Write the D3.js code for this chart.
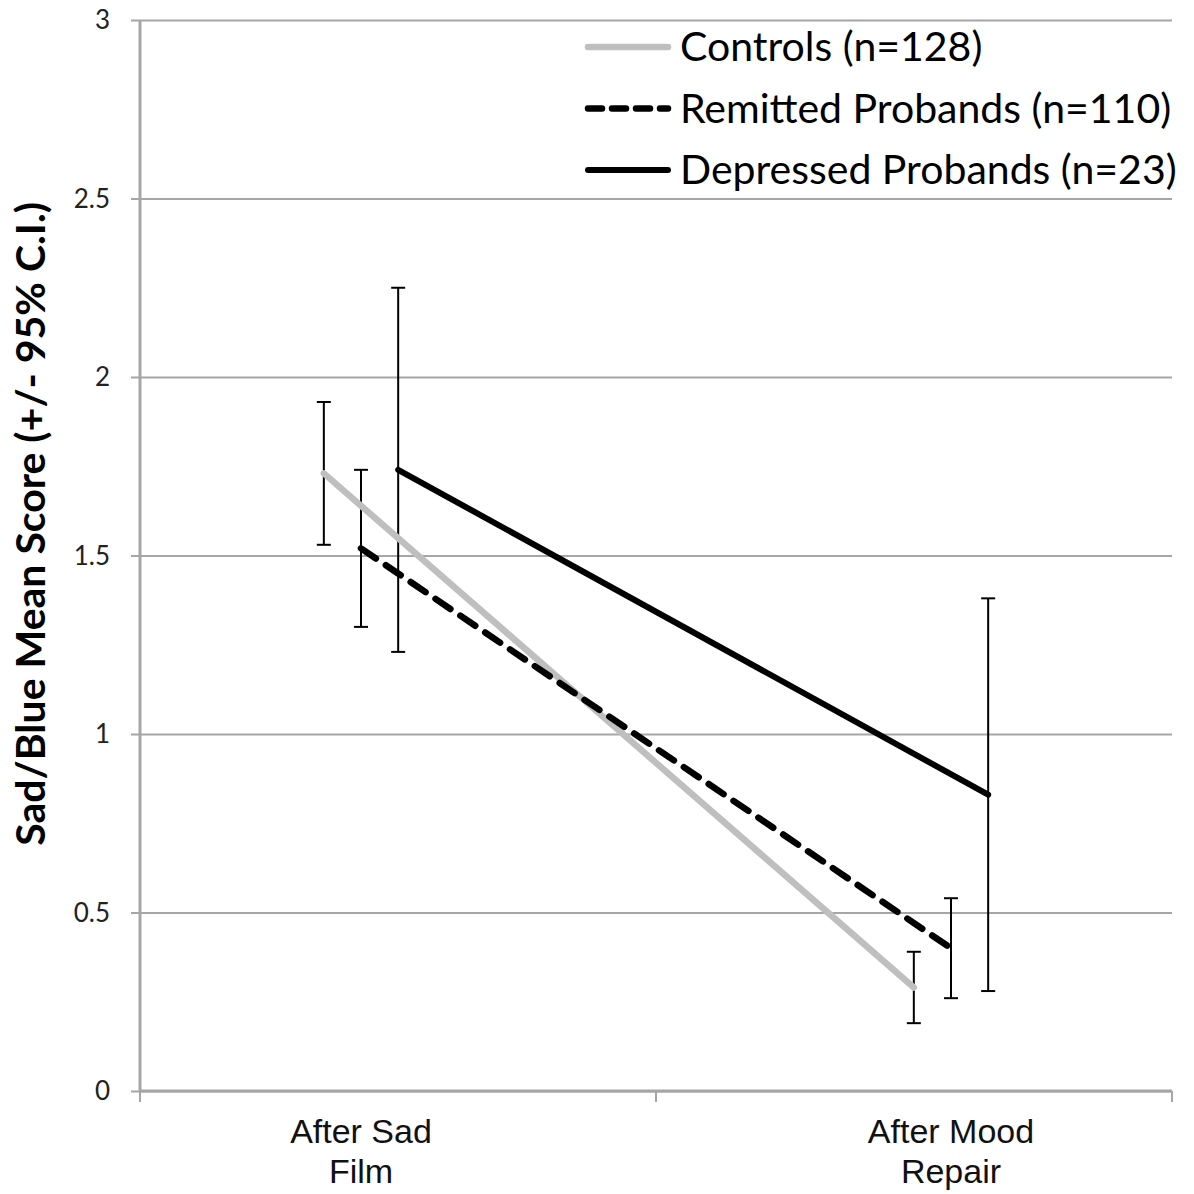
<!DOCTYPE html>
<html>
<head>
<meta charset="utf-8">
<script src="https://cdn.jsdelivr.net/npm/d3@7"></script>
<style>
  body { margin: 0; background: #fff; }
  svg { display: block; }
</style>
</head>
<body>
<svg width="1194" height="1194"></svg>
<script>
const svg = d3.select("svg");
const width = +svg.attr("width");
const height = +svg.attr("height");

// data
const categories = ["After Sad Film", "After Mood Repair"];
const categoryLines = [["After Sad", "Film"], ["After Mood", "Repair"]];
const seriesNames = ["Controls (n=128)", "Remitted Probands (n=110)", "Depressed Probands (n=23)"];
const controlsMean = [1.73, 0.29];
const controlsLow = [1.53, 0.19];
const controlsHigh = [1.93, 0.39];
const remittedMean = [1.52, 0.40];
const remittedLow = [1.30, 0.26];
const remittedHigh = [1.74, 0.54];
const depressedMean = [1.74, 0.83];
const depressedLow = [1.23, 0.28];
const depressedHigh = [2.25, 1.38];
const yTicks = [0, 0.5, 1, 1.5, 2, 2.5, 3];

const series = [
  { name: seriesNames[0], mean: controlsMean, low: controlsLow, high: controlsHigh, color: "#bfbfbf", dash: null, w: 6.5, off: -1 },
  { name: seriesNames[1], mean: remittedMean, low: remittedLow, high: remittedHigh, color: "#000", dash: "18,12", w: 6.5, off: 0 },
  { name: seriesNames[2], mean: depressedMean, low: depressedLow, high: depressedHigh, color: "#000", dash: null, w: 6, off: 1 }
];

const margin = { top: 20, right: 22, bottom: 103, left: 140 };
const innerWidth = width - margin.left - margin.right;
const innerHeight = height - margin.top - margin.bottom;

const g = svg.append("g")
  .attr("transform", `translate(${margin.left},${margin.top})`);

// scales
const yScale = d3.scaleLinear().domain([0, 3]).range([innerHeight, 0]);
const xBand = d3.scaleBand().domain(categories).range([0, innerWidth]);
const xScale = d3.scalePoint().domain(categories).range([0, innerWidth]).padding(0.3746);
const seriesStep = xScale.step() * 0.063;
const xPos = (s, i) => xScale(categories[i]) + s.off * seriesStep;

// gridlines + y axis
const yAxis = d3.axisLeft(yScale).tickValues(yTicks).tickSize(-innerWidth).tickFormat("");
const yAxisG = g.append("g").call(yAxis);
yAxisG.select(".domain").remove();
yAxisG.selectAll(".tick line").attr("stroke", "#a6a6a6").attr("stroke-width", 2).attr("x1", -9);
g.append("g").selectAll("text")
  .data(yTicks).enter().append("text")
  .attr("x", -30).attr("y", (d) => yScale(d)).attr("dy", "0.35em")
  .attr("text-anchor", "end")
  .attr("font-family", "Lato, sans-serif").attr("font-size", 26).attr("fill", "#222")
  .text(d3.format("~g"));
g.append("line")
  .attr("x1", 0).attr("x2", 0).attr("y1", 0).attr("y2", innerHeight)
  .attr("stroke", "#a6a6a6").attr("stroke-width", 3);

// x axis
const xAxisG = g.append("g").attr("transform", `translate(0,${innerHeight})`);
xAxisG.append("line")
  .attr("x1", 0).attr("x2", innerWidth)
  .attr("stroke", "#a6a6a6").attr("stroke-width", 3);
xAxisG.selectAll(".xtick")
  .data([0, ...categories.map((c) => xBand(c) + xBand.bandwidth())])
  .enter().append("line")
  .attr("x1", (d) => d).attr("x2", (d) => d).attr("y1", 0).attr("y2", 11)
  .attr("stroke", "#a6a6a6").attr("stroke-width", 2);
const catLabels = xAxisG.selectAll(".cat")
  .data(categories).enter().append("text")
  .attr("x", (d) => xScale(d))
  .attr("text-anchor", "middle")
  .attr("font-family", "'Liberation Sans', Arial, sans-serif")
  .attr("font-size", 34).attr("fill", "#111");
catLabels.append("tspan").attr("x", (d) => xScale(d)).attr("y", 52).text((d, i) => categoryLines[i][0]);
catLabels.append("tspan").attr("x", (d) => xScale(d)).attr("y", 92).text((d, i) => categoryLines[i][1]);

// y axis title
svg.append("text")
  .attr("transform", `translate(45,${margin.top + innerHeight * 0.4705}) rotate(-90)`)
  .attr("text-anchor", "middle")
  .attr("font-family", "Lato, sans-serif").attr("font-weight", "bold")
  .attr("font-size", 41).attr("fill", "#000")
  .text("Sad/Blue Mean Score (+/- 95% C.I.)");

// error bars
series.forEach((s) => {
  const eg = g.append("g");
  s.mean.forEach((m, i) => {
    const x = xPos(s, i);
    eg.append("line")
      .attr("x1", x).attr("x2", x).attr("y1", yScale(s.low[i])).attr("y2", yScale(s.high[i]))
      .attr("stroke", "#000").attr("stroke-width", 2);
    [s.low[i], s.high[i]].forEach((v) => {
      eg.append("line")
        .attr("x1", x - 7).attr("x2", x + 7).attr("y1", yScale(v)).attr("y2", yScale(v))
        .attr("stroke", "#000").attr("stroke-width", 2);
    });
  });
});

// lines
const line = d3.line();
series.forEach((s) => {
  g.append("path")
    .attr("d", line(s.mean.map((m, i) => [xPos(s, i), yScale(m)])))
    .attr("fill", "none")
    .attr("stroke", s.color)
    .attr("stroke-width", s.w)
    .attr("stroke-linecap", "round")
    .attr("stroke-dasharray", s.dash);
});

// legend
const legend = svg.append("g").attr("transform", "translate(586,47)");
series.forEach((s, i) => {
  const lg = legend.append("g").attr("transform", `translate(0,${i * 61.5})`);
  lg.append("line")
    .attr("x1", 2).attr("x2", 82)
    .attr("stroke", s.color).attr("stroke-width", s.w)
    .attr("stroke-linecap", "round")
    .attr("stroke-dasharray", s.dash ? "14,10" : null);
  lg.append("text")
    .attr("x", 94).attr("y", 0).attr("dy", "0.35em")
    .attr("font-family", "Lato, sans-serif").attr("font-size", 41).attr("fill", "#000")
    .text(s.name);
});
</script>
</body>
</html>
